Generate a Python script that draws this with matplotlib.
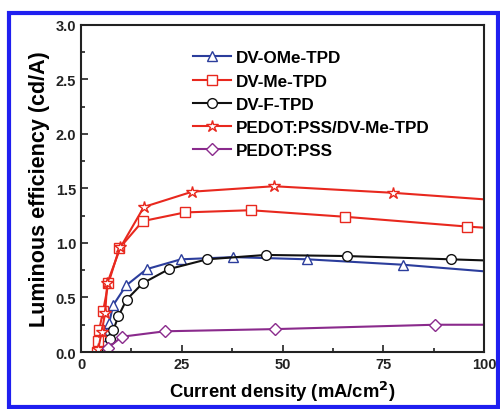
import matplotlib
matplotlib.use("Agg")
import matplotlib.pyplot as plt
from matplotlib.patches import Rectangle
from matplotlib.ticker import MultipleLocator

plt.rcParams['font.family'] = ['Liberation Sans', 'DejaVu Sans']
plt.rcParams['font.weight'] = 'bold'

# data (last point of each series is the clipped line end, no marker)
ome_x = [4.8, 5.8, 7.0, 8.0, 11.2, 16.3, 24.8, 37.8, 56.2, 80.0, 100]
ome_y = [0.05, 0.15, 0.27, 0.43, 0.61, 0.76, 0.85, 0.87, 0.85, 0.80, 0.74]

me_x = [3.9, 4.3, 4.5, 5.5, 6.8, 9.5, 15.3, 25.8, 42.1, 65.5, 95.9, 100]
me_y = [0.0, 0.10, 0.20, 0.38, 0.63, 0.95, 1.20, 1.28, 1.30, 1.24, 1.15, 1.14]

f_x = [6.4, 7.2, 8.0, 9.3, 11.3, 15.3, 21.8, 31.3, 45.8, 65.9, 91.7, 100]
f_y = [0.02, 0.12, 0.20, 0.33, 0.48, 0.63, 0.76, 0.85, 0.89, 0.88, 0.85, 0.84]

pm_x = [4.3, 5.1, 6.0, 6.5, 9.8, 15.6, 27.6, 47.9, 77.3, 100]
pm_y = [0.03, 0.18, 0.36, 0.63, 0.96, 1.33, 1.47, 1.52, 1.46, 1.40]

pp_x = [6.8, 10.1, 20.8, 48.1, 87.8, 100]
pp_y = [0.04, 0.14, 0.19, 0.21, 0.25, 0.25]

fig = plt.figure(figsize=(5, 4.1), dpi=100)
ax = fig.add_axes([0.162, 0.139, 0.806, 0.798])

series = [
    (ome_x, ome_y, '^', '#2b3d9c', 'DV-OMe-TPD'),
    (me_x, me_y, 's', '#e8281e', 'DV-Me-TPD'),
    (f_x, f_y, 'o', '#111111', 'DV-F-TPD'),
    (pm_x, pm_y, '*', '#e8281e', 'PEDOT:PSS/DV-Me-TPD'),
    (pp_x, pp_y, 'D', '#8a2a8c', 'PEDOT:PSS'),
]
for xs, ys, mk, col, lab in series:
    ms = 9 if mk == '*' else (6.5 if mk == 'D' else 7)
    ax.plot(xs, ys, color=col, lw=1.5, marker=mk, ms=ms, mfc='white',
            mec=col, mew=1.0, markevery=slice(0, len(xs) - 1), label=lab)

ax.set_xlim(0, 100)
ax.set_ylim(0, 3.0)
ax.xaxis.set_major_locator(MultipleLocator(25))
ax.xaxis.set_minor_locator(MultipleLocator(12.5))
ax.yaxis.set_major_locator(MultipleLocator(0.5))
ax.yaxis.set_minor_locator(MultipleLocator(0.25))
ax.tick_params(which='both', direction='in', top=False, right=False,
               labelsize=10.5, width=1.2, colors='#222222')
ax.tick_params(which='major', length=5)
ax.tick_params(which='minor', length=3)
ax.yaxis.set_major_formatter(matplotlib.ticker.FormatStrFormatter('%.1f'))
for s in ax.spines.values():
    s.set_linewidth(1.5)
    s.set_color('#222222')

ax.set_xlabel('Current density (mA/cm$^\\mathbf{2}$)', fontsize=13.3, fontweight='bold', labelpad=6)
ax.set_ylabel('Luminous efficiency (cd/A)', fontsize=15.5, fontweight='bold', labelpad=4)

ax.legend(loc='upper left', bbox_to_anchor=(0.278, 0.922), frameon=False,
          fontsize=12.3, handlelength=2.2, handletextpad=0.3,
          labelspacing=0.48, borderpad=0, borderaxespad=0)

fig.patches.append(Rectangle((0.018, 0.004), 0.978, 0.962, transform=fig.transFigure,
                             fill=False, edgecolor='#1f1ff0', linewidth=3))

fig.savefig('out.png', dpi=100)
